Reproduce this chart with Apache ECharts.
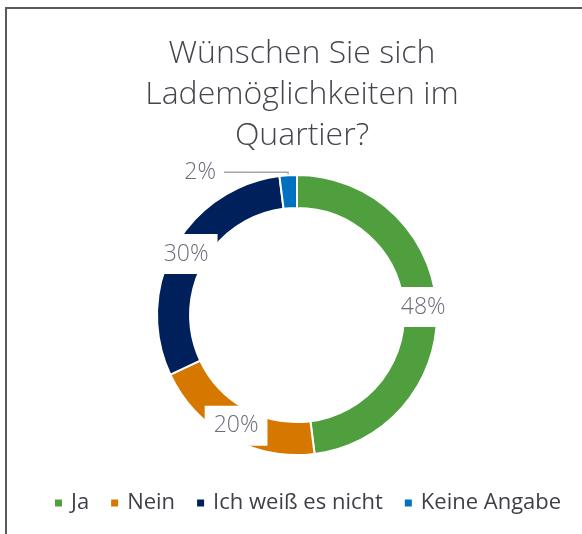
<!DOCTYPE html>
<html>
<head>
<meta charset="utf-8">
<script src="https://cdn.jsdelivr.net/npm/echarts@6/dist/echarts.min.js"></script>
<style>
  html, body { margin: 0; padding: 0; background: #fff; }
  #chart { width: 582px; height: 534px; }
</style>
</head>
<body>
<div id="chart"></div>
<script>
// Survey answers: "Wünschen Sie sich Lademöglichkeiten im Quartier?"
const categories = ['Ja', 'Nein', 'Ich weiß es nicht', 'Keine Angabe'];
const shares = [48, 20, 30, 2];
const colors = ['#4f9f3f', '#d67800', '#00205b', '#0070c0'];
const titleText = 'Wünschen Sie sich\nLademöglichkeiten im\nQuartier?';

const FONT = '"Open Sans"';
const labelColor = '#6b6b7c';

const pieData = categories.map((name, i) => {
  const item = { name: name, value: shares[i], itemStyle: { color: colors[i] } };
  if (shares[i] < 5) {
    // small slice: label sits outside with a leader line
    item.label = {
      position: 'outside',
      backgroundColor: 'transparent',
      padding: 0,
      distanceToLabelLine: 8
    };
    item.labelLine = {
      show: true,
      length: 3,
      length2: 64,
      lineStyle: { color: '#a6a6a6', width: 1.5 }
    };
  }
  return item;
});

const chart = echarts.init(document.getElementById('chart'), null, { renderer: 'canvas' });
chart.setOption({
  animation: false,
  backgroundColor: '#fff',
  graphic: [{
    type: 'rect',
    shape: { x: 6, y: 8, width: 700, height: 700 },
    style: { fill: 'none', stroke: '#58585f', lineWidth: 2 },
    silent: true
  }],
  title: {
    text: titleText,
    left: 297,
    textAlign: 'center',
    top: 28,
    textStyle: {
      fontFamily: FONT,
      fontSize: 32,
      fontWeight: 300,
      color: '#45454e',
      lineHeight: 41
    }
  },
  legend: {
    data: categories,
    left: 48,
    top: 487,
    itemWidth: 9,
    itemHeight: 9,
    itemGap: 20,
    icon: 'rect',
    textStyle: {
      fontFamily: FONT,
      fontSize: 22,
      fontWeight: 400,
      color: '#3f3f48',
      padding: [0, 0, 0, 3]
    }
  },
  series: [{
    type: 'pie',
    center: [297, 315],
    radius: [107, 140],
    startAngle: 90,
    clockwise: true,
    avoidLabelOverlap: false,
    itemStyle: { borderColor: '#fff', borderWidth: 2 },
    label: {
      show: true,
      position: 'inside',
      formatter: '{c}%',
      fontFamily: FONT,
      fontSize: 23,
      fontWeight: 300,
      lineHeight: 24,
      color: labelColor,
      backgroundColor: '#fff',
      padding: [8, 9, 8, 9]
    },
    labelLine: { show: false },
    emphasis: { disabled: true },
    data: pieData
  }]
});
</script>
</body>
</html>
